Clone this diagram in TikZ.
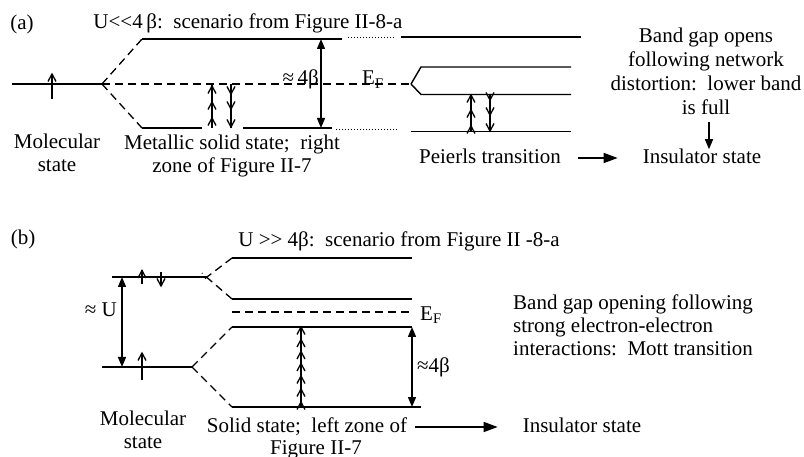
\documentclass[tikz,border=0pt]{standalone}
\usepackage{fontspec}
\setmainfont{Liberation Serif}
\usetikzlibrary{arrows.meta}
\begin{document}
\begin{tikzpicture}[x=1pt,y=-1pt,
  lvl/.style={line width=1.4pt},
  dsh/.style={line width=1.3pt, dash pattern=on 8pt off 5pt},
  dotl/.style={line width=1pt, dash pattern=on 1.2pt off 1.8pt},
  thinl/.style={line width=1.3pt},
  txt/.style={font=\fontsize{21}{23}\selectfont, inner sep=0pt},
  gaparrow/.style={line width=1.4pt, {Triangle[length=10pt,width=8pt]}-{Triangle[length=10pt,width=8pt]}},
  flow/.style={line width=1.5pt, -{Triangle[length=14pt,width=10pt]}},
  downarrow/.style={line width=1.4pt, -{Triangle[length=10pt,width=8pt]}},
  chevu/.pic={\draw[line width=1.3pt] (-4,7.5) -- (0,0) -- (4,7.5);},
  chevd/.pic={\draw[line width=1.3pt] (-4,-7.5) -- (0,0) -- (4,-7.5);},
]
\useasboundingbox (0,0) rectangle (804,457);

% ===================== (a) =====================
\node[txt, anchor=base] (la) at (22,30) {(a)};
\node[txt, anchor=base] (ta) at (248,29) {U<\kern0pt<4\,β:\ \ scenario from Figure II-8-a};

\coordinate (mA) at (102,84);
\coordinate (tA1) at (142,39);
\coordinate (tA2) at (342,39);
\coordinate (bA1) at (142,128);
\coordinate (sA) at (411,84);

\draw[lvl] (12,84) -- (mA);
\draw[thinl] (52,99) -- (52,74); \pic at (52,74) {chevu};

\draw[dsh] (mA) -- (tA1);
\draw[dsh] (mA) -- (bA1);
\draw[dsh] (mA) -- (sA);

\draw[lvl] (tA1) -- (tA2);
\draw[dotl] (348,38) -- (394,38);
\draw[lvl] (401,37) -- (581,37);

\draw[lvl] (bA1) -- (202,128);
\draw[lvl] (243,128) -- (332,128);
\draw[dotl] (336,130) -- (398,130);
\draw[lvl] (411,131.5) -- (571,131.5);

\draw[lvl] (sA) -- (421,67) -- (571,67);
\draw[lvl] (sA) -- (421,94.5) -- (571,94.5);

\draw[gaparrow] (321,39) -- (321,128);
\node[txt, anchor=base east] (b4a) at (319,85) {≈\,4β};
\node[txt, anchor=base west] (efa) at (362,85) {E\textsubscript{F}};

% stacked spins, metallic band
\draw[thinl] (212,128) -- (212,84);
\foreach \y in {86,102,118} \pic at (212,\y) {chevu};
\draw[thinl] (231,84) -- (231,128);
\foreach \y in {94,109,127} \pic at (231,\y) {chevd};

% stacked spins, Peierls band
\draw[thinl] (471,131.5) -- (471,94.5);
\foreach \y in {95,110,126} \pic at (471,\y) {chevu};
\draw[thinl] (490,94.5) -- (490,131.5);
\foreach \y in {100,115,131} \pic at (490,\y) {chevd};

\node[txt, anchor=base] (mola) at (57,149) {\begin{tabular}[t]{@{}c@{}}Molecular\\state\end{tabular}};
\node[txt, anchor=base] (meta) at (232,150) {\begin{tabular}[t]{@{}c@{}}Metallic solid state;\ \ right\\zone of Figure II-7\end{tabular}};
\node[txt, anchor=base] (pei) at (490,164) {Peierls transition};
\node[txt, anchor=base] (insa) at (702,164) {Insulator state};
\node[txt, font=\fontsize{21}{24}\selectfont, anchor=base] (band) at (706,43)
  {\begin{tabular}[t]{@{}c@{}}Band gap opens\\following network\\distortion:\ \ lower band\\is full\end{tabular}};

\draw[flow] ([xshift=17pt,yshift=6pt]pei.base east) -- ([xshift=-25pt,yshift=6pt]insa.base west);
\coordinate (bx) at (709,0);
\draw[downarrow] (band.south -| bx) -- (insa.north -| bx);

% ===================== (b) =====================
\node[txt, anchor=base] (lb) at (23,245) {(b)};
\node[txt, anchor=base] (tb) at (399,247) {U >\kern0pt> 4β:\ \ scenario from Figure II -8-a};

\coordinate (uM1) at (112,277);
\coordinate (uX) at (207,277);
\coordinate (lM1) at (102,367);
\coordinate (lM2) at (192,367);
\coordinate (b1) at (232,258);
\coordinate (b2) at (232,299);
\coordinate (b3) at (232,327);
\coordinate (b4) at (232,407);

\draw[lvl] (uM1) -- (uX);
\draw[thinl] (142,284) -- (142,270.5); \pic at (142,270.5) {chevu};
\draw[thinl] (161,272.5) -- (161,286); \pic at (161,286) {chevd};

\draw[dsh] (b1) -- (202,280.8);
\draw[dsh] (b2) -- (202,273.2);

\draw[lvl] (b1) -- (412,258);
\draw[lvl] (b2) -- (412,299);
\draw[dsh] (232,312) -- (412,312);
\draw[lvl] (b3) -- (412,327);
\draw[lvl] (b4) -- (421,407);

\draw[lvl] (lM1) -- (lM2);
\draw[thinl] (142,380) -- (142,353); \pic at (142,353) {chevu};
\draw[dsh] (lM2) -- (b3);
\draw[dsh] (lM2) -- (b4);

\draw[gaparrow] (122,277) -- (122,367);
\node[txt, anchor=base east] (bU) at (117,317) {≈ U};

\draw[thinl] (301,407) -- (301,327);
\foreach \y in {327,339.5,351.5,363.5,376,389,402} \pic at (301,\y) {chevu};

\draw[gaparrow] (412,327) -- (412,407);
\node[txt, anchor=base west] (b4b) at (417,373) {≈4β};
\node[txt, anchor=base west] (efb) at (420,320) {E\textsubscript{F}};

\node[txt, anchor=base] (molb) at (143,425) {\begin{tabular}[t]{@{}c@{}}Molecular\\state\end{tabular}};
\node[txt, font=\fontsize{21}{22}\selectfont, anchor=base] (solb) at (307,432) {\begin{tabular}[t]{@{}c@{}}Solid state;\ \ left zone of\\\hspace*{18pt}Figure II-7\end{tabular}};
\node[txt, anchor=base] (insb) at (582,432) {Insulator state};
\node[txt, anchor=base west] (mott) at (513,310)
  {\begin{tabular}[t]{@{}l@{}}Band gap opening following\\strong electron-electron\\interactions:\ \ Mott transition\end{tabular}};

\draw[flow] ([xshift=8pt,yshift=5pt]solb.base east) -- ([xshift=-25pt,yshift=5pt]insb.base west);
\end{tikzpicture}
\end{document}
